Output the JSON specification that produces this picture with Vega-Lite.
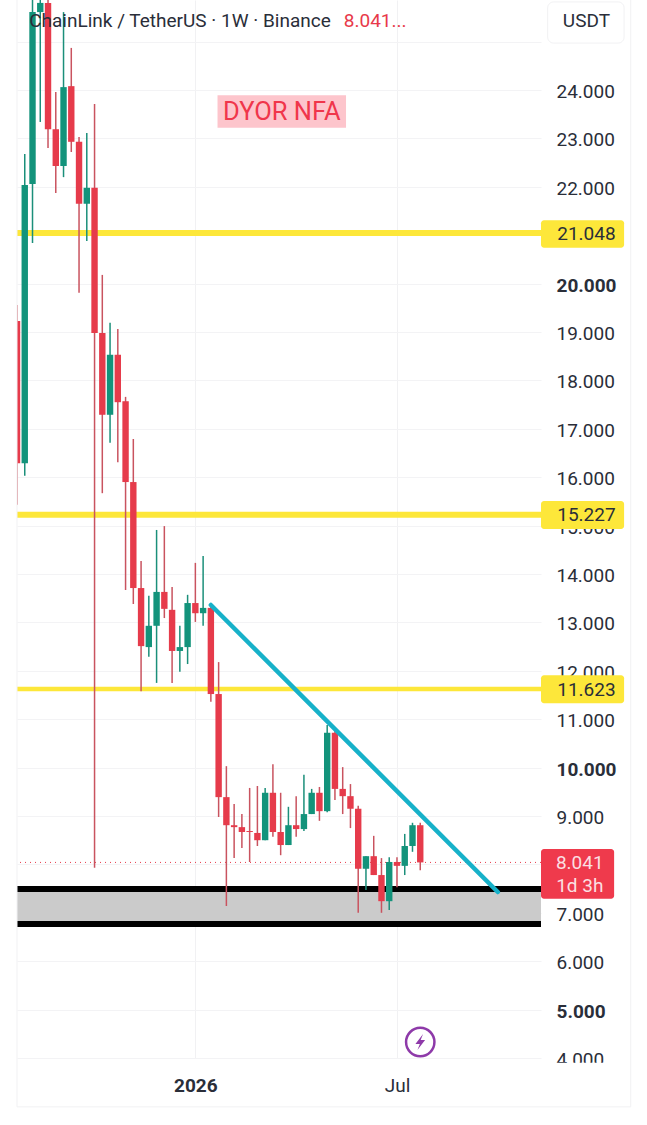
{
  "$schema": "https://vega.github.io/schema/vega-lite/v6.json",
  "width": 524,
  "height": 1058,
  "autosize": "none",
  "padding": {"left": 17, "top": 0, "right": 106, "bottom": 67},
  "background": "#ffffff",
  "view": {"stroke": null},
  "config": {"text": {"font": "Roboto"}, "axis": {"labelFont": "Roboto"}},
  "datasets": {
    "candles": [
      {"t":"2025-07-28","open":19.23,"close":16.29,"high":19.56,"low":15.43},
      {"t":"2025-08-04","open":16.29,"close":22.04,"high":22.68,"low":16.03},
      {"t":"2025-08-11","open":22.06,"close":25.61,"high":27,"low":20.84},
      {"t":"2025-08-18","open":25.61,"close":25.8,"high":27,"low":23.34},
      {"t":"2025-08-25","open":25.8,"close":23.19,"high":26.8,"low":22.8},
      {"t":"2025-09-01","open":23.19,"close":22.43,"high":23.96,"low":21.87},
      {"t":"2025-09-08","open":22.43,"close":24.06,"high":25.61,"low":22.2},
      {"t":"2025-09-15","open":24.08,"close":22.93,"high":24.87,"low":22.72},
      {"t":"2025-09-22","open":22.93,"close":21.65,"high":23.03,"low":19.81},
      {"t":"2025-09-29","open":21.65,"close":21.98,"high":23.11,"low":20.88},
      {"t":"2025-10-06","open":21.98,"close":18.98,"high":23.71,"low":7.93},
      {"t":"2025-10-13","open":18.98,"close":17.29,"high":20.18,"low":15.67},
      {"t":"2025-10-20","open":17.29,"close":18.53,"high":19.19,"low":16.71},
      {"t":"2025-10-27","open":18.53,"close":17.55,"high":19.06,"low":16.31},
      {"t":"2025-11-03","open":17.57,"close":15.9,"high":17.66,"low":13.67},
      {"t":"2025-11-10","open":15.9,"close":13.71,"high":16.79,"low":13.38},
      {"t":"2025-11-17","open":13.71,"close":12.51,"high":14.27,"low":11.58},
      {"t":"2025-11-24","open":12.49,"close":12.93,"high":13.55,"low":12.29},
      {"t":"2025-12-01","open":12.93,"close":13.63,"high":14.91,"low":11.75},
      {"t":"2025-12-08","open":13.63,"close":13.28,"high":14.99,"low":13.09},
      {"t":"2025-12-15","open":13.26,"close":12.41,"high":13.73,"low":11.75},
      {"t":"2025-12-22","open":12.41,"close":12.49,"high":12.93,"low":11.98},
      {"t":"2025-12-29","open":12.49,"close":13.4,"high":13.57,"low":12.14},
      {"t":"2026-01-05","open":13.4,"close":13.19,"high":14.23,"low":13.01},
      {"t":"2026-01-12","open":13.19,"close":13.3,"high":14.37,"low":12.93},
      {"t":"2026-01-19","open":13.3,"close":11.52,"high":13.36,"low":11.36},
      {"t":"2026-01-26","open":11.52,"close":9.39,"high":12.18,"low":8.98},
      {"t":"2026-02-02","open":9.39,"close":8.81,"high":10.03,"low":7.14},
      {"t":"2026-02-09","open":8.81,"close":8.77,"high":9.25,"low":8.13},
      {"t":"2026-02-16","open":8.77,"close":8.67,"high":9.04,"low":8.34},
      {"t":"2026-02-23","open":8.69,"close":8.67,"high":9.58,"low":8.05},
      {"t":"2026-03-02","open":8.65,"close":8.5,"high":9.62,"low":8.38},
      {"t":"2026-03-09","open":8.5,"close":9.48,"high":9.58,"low":8.5},
      {"t":"2026-03-16","open":9.48,"close":8.67,"high":10.07,"low":8.57},
      {"t":"2026-03-23","open":8.67,"close":8.4,"high":9.48,"low":8.19},
      {"t":"2026-03-30","open":8.4,"close":8.81,"high":9.19,"low":8.4},
      {"t":"2026-04-06","open":8.81,"close":8.73,"high":9.41,"low":8.57},
      {"t":"2026-04-13","open":8.73,"close":9.04,"high":9.85,"low":8.69},
      {"t":"2026-04-20","open":9.04,"close":9.48,"high":9.56,"low":9.04},
      {"t":"2026-04-27","open":9.48,"close":9.1,"high":9.6,"low":8.9},
      {"t":"2026-05-04","open":9.1,"close":10.72,"high":10.88,"low":9.08},
      {"t":"2026-05-11","open":10.72,"close":9.56,"high":10.82,"low":9.33},
      {"t":"2026-05-18","open":9.56,"close":9.41,"high":10.01,"low":9.04},
      {"t":"2026-05-25","open":9.41,"close":9.15,"high":9.66,"low":8.75},
      {"t":"2026-06-01","open":9.15,"close":7.91,"high":9.21,"low":7},
      {"t":"2026-06-08","open":7.91,"close":8.17,"high":8.17,"low":7.47},
      {"t":"2026-06-15","open":8.17,"close":7.78,"high":8.59,"low":7.78},
      {"t":"2026-06-22","open":7.78,"close":7.24,"high":8.13,"low":7},
      {"t":"2026-06-29","open":7.24,"close":8.05,"high":8.15,"low":7.06},
      {"t":"2026-07-06","open":8.05,"close":7.97,"high":8.15,"low":7.53},
      {"t":"2026-07-13","open":7.97,"close":8.38,"high":8.63,"low":7.78},
      {"t":"2026-07-20","open":8.38,"close":8.81,"high":8.86,"low":8.26},
      {"t":"2026-07-27","open":8.81,"close":8.041,"high":8.86,"low":7.88}
    ]
  },
  "layer": [
    {
      "data": {"values": [{"t0":"2025-07-28","t1":"2026-11-13","top":7.49,"bottom":6.77}]},
      "mark": {"type": "rect", "color": "#cbcbcb"},
      "encoding": {
        "x": {
          "field": "t0", "type": "temporal", "title": null,
          "scale": {"type": "utc", "padding": 0, "domain": [{"year":2025,"month":7,"date":28,"utc":true},{"year":2026,"month":11,"date":13,"utc":true}]},
          "axis": {
            "values": [{"year":2026,"month":1,"date":5,"utc":true},{"year":2026,"month":7,"date":6,"utc":true}],
            "labelExpr": "utcFormat(datum.value, '%m') == '01' ? '2026' : 'Jul'",
            "labelFontWeight": {"expr": "utcFormat(datum.value, '%m') == '01' ? 'bold' : 'normal'"},
            "labelFontSize": 19, "labelColor": "#2a2e39", "labelPadding": 27, "labelBaseline": "middle",
            "domain": false, "ticks": false, "grid": true, "gridColor": "#f1f1f3"
          }
        },
        "x2": {"field": "t1"},
        "y": {
          "field": "top", "type": "quantitative", "title": null,
          "scale": {"domain": [4, 25.86], "nice": false, "zero": false},
          "axis": {
            "orient": "right",
            "values": [4,5,6,7,8,9,10,11,12,13,14,15,16,17,18,19,20,21,22,23,24,25],
            "labelExpr": "datum.value == 25 || datum.value == 21 || datum.value == 8 ? '' : format(datum.value, '.3f')",
            "labelFontWeight": {"expr": "datum.value == 5 || datum.value == 10 || datum.value == 20 ? 'bold' : 'normal'"},
            "labelFontSize": 19, "labelColor": "#2a2e39", "labelPadding": 15, "labelAlign": "left", "labelOffset": 1.5,
            "domain": false, "ticks": false, "grid": true, "gridColor": "#f3f3f5"
          }
        },
        "y2": {"field": "bottom"}
      }
    },
    {
      "data": {"values": [{"price":7.49},{"price":6.77}]},
      "mark": {"type": "rule", "color": "#000000", "strokeWidth": 6},
      "encoding": {"y": {"field": "price", "type": "quantitative"}}
    },
    {
      "data": {"values": [{"price":21.048},{"price":15.227}]},
      "mark": {"type": "rule", "color": "#fde73a", "strokeWidth": 6},
      "encoding": {"y": {"field": "price", "type": "quantitative"}}
    },
    {
      "data": {"values": [{"price":11.623}]},
      "mark": {"type": "rule", "color": "#fde73a", "strokeWidth": 4.5},
      "encoding": {"y": {"field": "price", "type": "quantitative"}}
    },
    {
      "data": {"values": [{"price":8.041}]},
      "mark": {"type": "rule", "color": "#e8394a", "strokeWidth": 1, "strokeDash": [1, 4]},
      "encoding": {"y": {"field": "price", "type": "quantitative"}}
    },
    {
      "data": {"name": "candles"},
      "mark": {"type": "rule", "strokeWidth": 1.5, "clip": true},
      "encoding": {
        "x": {"field": "t", "type": "temporal"},
        "y": {"field": "low", "type": "quantitative"},
        "y2": {"field": "high"},
        "color": {"condition": {"test": "datum.close >= datum.open", "value": "#1b8f7a"}, "value": "#c9535f"}
      }
    },
    {
      "data": {"name": "candles"},
      "mark": {"type": "bar", "width": 6.4, "clip": true},
      "encoding": {
        "x": {"field": "t", "type": "temporal"},
        "y": {"field": "open", "type": "quantitative"},
        "y2": {"field": "close"},
        "color": {"condition": {"test": "datum.close >= datum.open", "value": "#13937b"}, "value": "#e63b4b"}
      }
    },
    {
      "data": {"values": [{"t":"2026-01-19","price":13.36},{"t":"2026-10-05","price":7.43}]},
      "mark": {"type": "line", "color": "#17b1c9", "strokeWidth": 4.5, "strokeCap": "round"},
      "encoding": {
        "x": {"field": "t", "type": "temporal"},
        "y": {"field": "price", "type": "quantitative"}
      }
    },
    {
      "data": {"values": [{"t0":"2026-01-25","t1":"2026-05-21","top":23.89,"bottom":23.22}]},
      "mark": {"type": "rect", "color": "#fdc5cc"},
      "encoding": {
        "x": {"field": "t0", "type": "temporal"}, "x2": {"field": "t1"},
        "y": {"field": "top", "type": "quantitative"}, "y2": {"field": "bottom"}
      }
    },
    {
      "data": {"values": [{"t0":"2026-11-13","t1":"2027-01-27","top":3.9,"bottom":3.6}]},
      "mark": {"type": "rect", "color": "#ffffff"},
      "encoding": {
        "x": {"field": "t0", "type": "temporal"}, "x2": {"field": "t1"},
        "y": {"field": "top", "type": "quantitative"}, "y2": {"field": "bottom"}
      }
    },
    {
      "data": {"values": [
        {"t0":"2026-11-13","t1":"2027-01-27","top":21.31,"bottom":20.74},
        {"t0":"2026-11-13","t1":"2027-01-27","top":15.51,"bottom":14.93},
        {"t0":"2026-11-13","t1":"2027-01-27","top":11.91,"bottom":11.33}
      ]},
      "mark": {"type": "rect", "color": "#fde73a", "cornerRadius": 3},
      "encoding": {
        "x": {"field": "t0", "type": "temporal"}, "x2": {"field": "t1"},
        "y": {"field": "top", "type": "quantitative"}, "y2": {"field": "bottom"}
      }
    },
    {
      "data": {"values": [{"t0":"2026-11-13","t1":"2027-01-18","top":8.32,"bottom":7.29}]},
      "mark": {"type": "rect", "color": "#ef3a4c", "cornerRadius": 3},
      "encoding": {
        "x": {"field": "t0", "type": "temporal"}, "x2": {"field": "t1"},
        "y": {"field": "top", "type": "quantitative"}, "y2": {"field": "bottom"}
      }
    },
    {
      "data": {"values": [{"t0":"2026-11-19","t1":"2027-01-27","top":25.82,"bottom":24.97}]},
      "mark": {"type": "rect", "fill": "#ffffff", "stroke": "#f1f1f3", "strokeWidth": 1, "cornerRadius": 6},
      "encoding": {
        "x": {"field": "t0", "type": "temporal"}, "x2": {"field": "t1"},
        "y": {"field": "top", "type": "quantitative"}, "y2": {"field": "bottom"}
      }
    },
    {
      "data": {"values": [
        {"t":"2025-07-28","price":25.86,"end":2.99},
        {"t":"2027-02-02","price":25.86,"end":2.99}
      ]},
      "mark": {"type": "rule", "color": "#f1f1f3", "strokeWidth": 1},
      "encoding": {
        "x": {"field": "t", "type": "temporal"},
        "y": {"field": "price", "type": "quantitative"},
        "y2": {"field": "end"}
      }
    },
    {
      "data": {"values": [{"t0":"2025-07-28","t1":"2027-02-02","price":2.99}]},
      "mark": {"type": "rule", "color": "#f1f1f3", "strokeWidth": 1},
      "encoding": {
        "x": {"field": "t0", "type": "temporal"}, "x2": {"field": "t1"},
        "y": {"field": "price", "type": "quantitative"}
      }
    },
    {
      "data": {"values": [{"t":"2026-07-27","price":4.33}]},
      "mark": {"type": "point", "shape": "circle", "size": 804, "filled": false, "color": "#8e3aa9", "strokeWidth": 2.5, "opacity": 1},
      "encoding": {
        "x": {"field": "t", "type": "temporal"},
        "y": {"field": "price", "type": "quantitative"}
      }
    },
    {
      "data": {"values": [{"t":"2026-07-27","price":4.33}]},
      "mark": {"type": "point", "shape": "M0.35,-1L-0.6,0.25L-0.05,0.25L-0.35,1L0.6,-0.25L0.05,-0.25Z", "size": 260, "filled": true, "color": "#8e3aa9", "opacity": 1},
      "encoding": {
        "x": {"field": "t", "type": "temporal"},
        "y": {"field": "price", "type": "quantitative"}
      }
    },
    {
      "data": {"values": [{"t":"2025-08-08","price":25.43,"label":"ChainLink / TetherUS · 1W · Binance"}]},
      "mark": {"type": "text", "align": "left", "baseline": "middle", "fontSize": 19, "color": "#2a2e39"},
      "encoding": {
        "x": {"field": "t", "type": "temporal"},
        "y": {"field": "price", "type": "quantitative"},
        "text": {"field": "label"}
      }
    },
    {
      "data": {"values": [{"t":"2026-05-19","price":25.43,"label":"8.041..."}]},
      "mark": {"type": "text", "align": "left", "baseline": "middle", "fontSize": 19, "color": "#e8394a"},
      "encoding": {
        "x": {"field": "t", "type": "temporal"},
        "y": {"field": "price", "type": "quantitative"},
        "text": {"field": "label"}
      }
    },
    {
      "data": {"values": [{"t":"2026-03-24","price":23.55,"label":"DYOR NFA"}]},
      "mark": {"type": "text", "align": "center", "baseline": "middle", "fontSize": 25.5, "color": "#f0364b"},
      "encoding": {
        "x": {"field": "t", "type": "temporal"},
        "y": {"field": "price", "type": "quantitative"},
        "text": {"field": "label"}
      }
    },
    {
      "data": {"values": [
        {"t":"2026-12-24","price":25.42,"label":"USDT"},
        {"t":"2026-12-24","price":21.03,"label":"21.048"},
        {"t":"2026-12-24","price":15.21,"label":"15.227"},
        {"t":"2026-12-24","price":11.61,"label":"11.623"}
      ]},
      "mark": {"type": "text", "align": "center", "baseline": "middle", "fontSize": 19, "color": "#2a2e39"},
      "encoding": {
        "x": {"field": "t", "type": "temporal"},
        "y": {"field": "price", "type": "quantitative"},
        "text": {"field": "label"}
      }
    },
    {
      "data": {"values": [
        {"t":"2026-12-18","price":8.03,"label":"8.041"},
        {"t":"2026-12-18","price":7.55,"label":"1d 3h"}
      ]},
      "mark": {"type": "text", "align": "center", "baseline": "middle", "fontSize": 19, "color": "#fbdfe2"},
      "encoding": {
        "x": {"field": "t", "type": "temporal"},
        "y": {"field": "price", "type": "quantitative"},
        "text": {"field": "label"}
      }
    }
  ]
}
